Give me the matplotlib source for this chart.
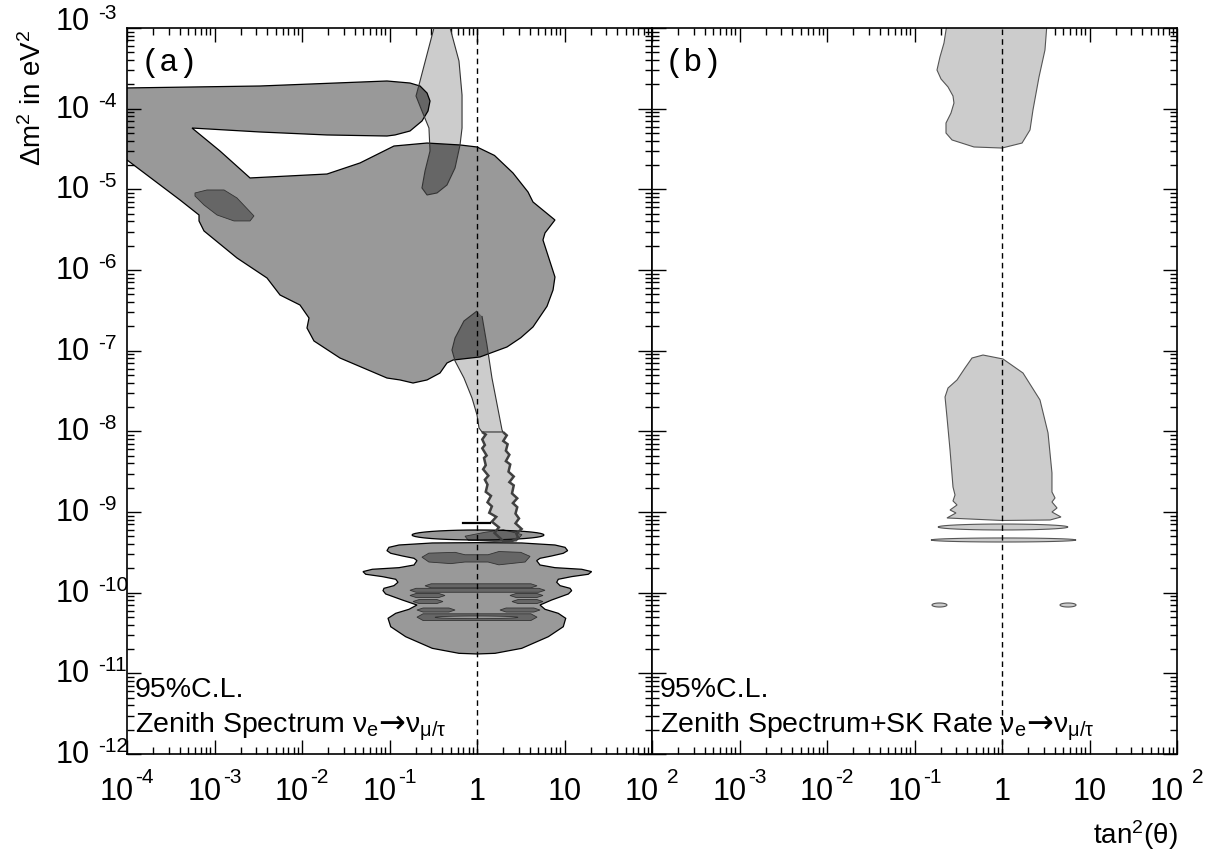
import numpy as np
import matplotlib
matplotlib.use('Agg')
import matplotlib.pyplot as plt
from matplotlib.patches import Polygon
from matplotlib.ticker import LogLocator, NullFormatter, FixedLocator

plt.rcParams['font.family'] = 'Liberation Sans'
plt.rcParams['mathtext.fontset'] = 'custom'
plt.rcParams['mathtext.rm'] = 'Liberation Sans'
plt.rcParams['mathtext.it'] = 'Liberation Sans:italic'
plt.rcParams['mathtext.sf'] = 'Liberation Sans'
plt.rcParams['mathtext.default'] = 'regular'

# axis ticks: value and the exponent printed next to "10" (None -> plain label)
TAN2_TICKS = [1e-4, 1e-3, 1e-2, 1e-1, 1, 10, 100]
TAN2_EXP = ['-4', '-3', '-2', '-1', None, None, '2']
DM2_TICKS = [1e-12, 1e-11, 1e-10, 1e-9, 1e-8, 1e-7, 1e-6, 1e-5, 1e-4, 1e-3]
DM2_EXP = ['-12', '-11', '-10', '-9', '-8', '-7', '-6', '-5', '-4', '-3']
PLAIN_LABELS = {1: '1', 10: '10'}

# contour outlines as (log10 tan^2, log10 dm^2)
# panel (a): zenith spectrum only
A_MAIN = [(-4.05, -3.744), (-2.48, -3.719), (-1.029, -3.657), (-0.766, -3.682), (-0.651, -3.719),
          (-0.571, -3.806), (-0.537, -3.905), (-0.56, -4.029), (-0.629, -4.153), (-0.766, -4.277),
          (-0.937, -4.326), (-1.029, -4.339), (-1.714, -4.326), (-2.48, -4.289), (-3.257, -4.24),
          (-2.937, -4.525), (-2.594, -4.859), (-1.714, -4.810), (-1.337, -4.673), (-0.949, -4.463),
          (-0.571, -4.426), (-0.194, -4.450), (0.0, -4.475), (0.2, -4.58), (0.411, -4.797),
          (0.583, -5.033), (0.64, -5.157), (0.891, -5.380), (0.777, -5.541), (0.754, -5.628),
          (0.891, -6.087), (0.869, -6.248), (0.80, -6.45), (0.64, -6.706), (0.5, -6.84),
          (0.343, -6.954), (0.034, -7.078), (-0.274, -7.116), (-0.343, -7.153), (-0.423, -7.277),
          (-0.571, -7.363), (-0.731, -7.401), (-0.88, -7.363), (-1.029, -7.339), (-1.566, -7.091),
          (-1.863, -6.880), (-1.943, -6.719), (-1.92, -6.595), (-2.023, -6.434), (-2.251, -6.310),
          (-2.40, -6.099), (-2.743, -5.851), (-3.12, -5.516), (-3.177, -5.392), (-3.177, -5.318),
          (-3.394, -5.132), (-4.05, -4.595)]
A_LOW = [(0.0, -9.38), (0.511, -9.384), (0.891, -9.409), (1.006, -9.438), (1.036, -9.479),
         (0.986, -9.512), (0.853, -9.545), (0.72, -9.574), (0.682, -9.603), (0.72, -9.657),
         (0.891, -9.690), (1.196, -9.710), (1.31, -9.739), (1.272, -9.772), (1.082, -9.801),
         (0.929, -9.834), (0.911, -9.871), (0.949, -9.913), (1.063, -9.946), (1.082, -9.975),
         (1.044, -10.016), (0.853, -10.091), (0.72, -10.153), (0.777, -10.206), (0.929, -10.256),
         (1.014, -10.318), (0.986, -10.422), (0.815, -10.546), (0.511, -10.690), (0.206, -10.752),
         (0.0, -10.760), (-0.206, -10.752), (-0.511, -10.690), (-0.815, -10.546), (-0.986, -10.422),
         (-1.017, -10.318), (-0.929, -10.256), (-0.777, -10.206), (-0.686, -10.153),
         (-0.853, -10.091), (-1.044, -10.016), (-1.074, -9.975), (-1.063, -9.946), (-0.949, -9.913),
         (-0.903, -9.871), (-0.929, -9.834), (-1.082, -9.801), (-1.272, -9.772), (-1.303, -9.739),
         (-1.196, -9.710), (-0.891, -9.690), (-0.72, -9.657), (-0.686, -9.603), (-0.72, -9.574),
         (-0.853, -9.545), (-0.986, -9.512), (-1.029, -9.479), (-1.006, -9.438), (-0.891, -9.409),
         (-0.511, -9.384)]
A_STRIPE = (-0.743, 0.766, -9.223, -9.347)
A_LIGHT_UP = [(-0.48, -2.95), (-0.651, -3.657), (-0.697, -3.843), (-0.629, -4.029), (-0.549, -4.24),
              (-0.537, -4.525), (-0.594, -4.773), (-0.629, -4.983), (-0.571, -5.070),
              (-0.457, -5.045), (-0.343, -4.946), (-0.251, -4.735), (-0.194, -4.450),
              (-0.171, -4.24), (-0.171, -3.831), (-0.206, -3.409), (-0.32, -2.95)]
A_LIGHT_LOW = [(0.0, -6.508), (-0.149, -6.632), (-0.251, -6.843), (-0.286, -6.992), (-0.251, -7.128),
               (-0.149, -7.339), (-0.057, -7.587), (0.0, -7.797), (0.023, -7.958), (0.057, -8.008),
               (0.10, -8.04), (0.06, -8.10), (0.09, -8.17), (0.06, -8.21), (0.11, -8.30),
               (0.08, -8.33), (0.10, -8.42), (0.07, -8.47), (0.13, -8.55), (0.09, -8.60),
               (0.12, -8.66), (0.10, -8.75), (0.16, -8.80), (0.12, -8.88), (0.17, -8.93),
               (0.14, -9.01), (0.22, -9.06), (0.17, -9.12), (0.25, -9.19), (0.20, -9.26),
               (0.26, -9.32), (0.30, -9.36), (0.40, -9.36), (0.47, -9.32), (0.45, -9.27),
               (0.51, -9.21), (0.44, -9.14), (0.48, -9.08), (0.44, -9.02), (0.46, -8.94),
               (0.41, -8.89), (0.46, -8.83), (0.40, -8.77), (0.42, -8.67), (0.37, -8.63),
               (0.42, -8.56), (0.36, -8.50), (0.38, -8.41), (0.33, -8.37), (0.37, -8.29),
               (0.33, -8.24), (0.35, -8.16), (0.30, -8.12), (0.34, -8.05), (0.297, -8.008),
               (0.286, -7.983), (0.171, -7.339), (0.114, -6.930), (0.057, -6.570)]
A_DARK_BLOB = [(-3.223, -5.045), (-3.086, -5.008), (-2.891, -5.008), (-2.743, -5.107), (-2.549, -5.330),
               (-2.594, -5.392), (-2.777, -5.392), (-2.971, -5.318), (-3.12, -5.194), (-3.223, -5.083)]
A_BOWTIE = [(-0.629, -9.56), (-0.55, -9.51), (-0.25, -9.50), (-0.137, -9.53), (0.126, -9.53),
            (0.25, -9.49), (0.50, -9.50), (0.606, -9.55), (0.55, -9.62), (0.25, -9.655),
            (0.126, -9.62), (-0.137, -9.62), (-0.30, -9.64), (-0.55, -9.62)]
A_MERGE = [(-0.137, -9.30), (0.1, -9.25), (0.3, -9.22), (0.514, -9.28), (0.45, -9.36),
           (0.2, -9.365), (-0.1, -9.35)]
# dark bands inside the low region: (x left, x right, y top, y bottom)
A_BANDS = [(-0.594, 0.686, -9.890, -9.940), (-0.766, 0.777, -9.946, -9.995),
           (-0.766, -0.366, -10.010, -10.060), (0.377, 0.754, -10.010, -10.060),
           (-0.731, -0.389, -10.085, -10.135), (0.40, 0.754, -10.085, -10.135),
           (-0.686, -0.251, -10.190, -10.240), (0.263, 0.72, -10.190, -10.240),
           (-0.686, 0.686, -10.262, -10.345)]
A_RING_HOLE = (-0.48, 0.469, -10.289, -10.322)
A_TICK_MARK = ([-0.16, 0.149], [-9.136, -9.136])

# panel (b): zenith spectrum + SK rate
B_LIGHT_UP = [(-0.629, -2.95), (-0.663, -3.186), (-0.709, -3.359), (-0.743, -3.521), (-0.697, -3.632),
              (-0.617, -3.731), (-0.56, -3.843), (-0.549, -3.930), (-0.583, -4.054), (-0.64, -4.178),
              (-0.64, -4.302), (-0.571, -4.388), (-0.32, -4.475), (0.0, -4.488), (0.229, -4.426),
              (0.32, -4.264), (0.354, -4.016), (0.423, -3.607), (0.491, -3.273), (0.514, -2.95)]
B_LIGHT_LOW = [(-0.217, -7.054), (0.011, -7.103), (0.24, -7.277), (0.434, -7.611), (0.526, -8.020),
               (0.571, -8.516), (0.571, -8.752), (0.606, -8.826), (0.571, -8.876), (0.629, -8.950),
               (0.571, -9.0), (0.674, -9.062), (0.549, -9.099), (0.0, -9.105), (-0.629, -9.074),
               (-0.526, -9.012), (-0.594, -8.975), (-0.514, -8.913), (-0.56, -8.863),
               (-0.537, -8.789), (-0.56, -8.690), (-0.594, -8.231), (-0.629, -7.822),
               (-0.651, -7.574), (-0.617, -7.463), (-0.514, -7.363), (-0.423, -7.215),
               (-0.343, -7.091)]
B_LENSES = [(-0.731, 0.754, -9.149, -9.223), (-0.811, 0.846, -9.322, -9.372),
            (-0.8, -0.629, -10.128, -10.178), (0.663, 0.846, -10.128, -10.178)]

MID = '#999999'
LIGHT = '#cccccc'
DARK = '#666666'


def to_xy(pts):
    a = np.array(pts, dtype=float)
    return np.column_stack([10 ** a[:, 0], 10 ** a[:, 1]])


def lens(x0, x1, yt, yb, n=40):
    t = np.linspace(0, 2 * np.pi, n, endpoint=False)
    cx, cy = (x0 + x1) / 2, (yt + yb) / 2
    return list(zip(cx + (x1 - x0) / 2 * np.cos(t), cy + (yt - yb) / 2 * np.sin(t)))


def band(x0, x1, yt, yb):
    ym = (yt + yb) / 2
    return [(x0, ym), (x0 + 0.07, yt), (x1 - 0.07, yt), (x1, ym), (x1 - 0.07, yb), (x0 + 0.07, yb)]


def label_width(exp, big=22, small=15):
    # rough advance widths (points) of Liberation Sans digits / minus
    w10 = big * 1.112
    if exp is None:
        return w10, 0, 0
    wexp = small * (0.333 * exp.count('-') + 0.556 * sum(c.isdigit() for c in exp))
    gap = 1.0 if exp.startswith('-') else 6.0
    return w10, gap, wexp


def x_labels(ax, skip_first):
    for i, (v, e) in enumerate(zip(TAN2_TICKS, TAN2_EXP)):
        if skip_first and i == 0:
            continue
        if e is None:
            ax.annotate(PLAIN_LABELS[v], xy=(v, 0), xycoords=('data', 'axes fraction'),
                        xytext=(0, -33), textcoords='offset points', ha='center',
                        va='baseline', fontsize=22, annotation_clip=False)
            continue
        w10, gap, wexp = label_width(e)
        left = -(w10 + gap + wexp) / 2
        ax.annotate('10', xy=(v, 0), xycoords=('data', 'axes fraction'),
                    xytext=(left, -33), textcoords='offset points', ha='left',
                    va='baseline', fontsize=22, annotation_clip=False)
        ax.annotate(e, xy=(v, 0), xycoords=('data', 'axes fraction'),
                    xytext=(left + w10 + gap, -21), textcoords='offset points', ha='left',
                    va='baseline', fontsize=15, annotation_clip=False)


def y_labels(ax):
    for v, e in zip(DM2_TICKS, DM2_EXP):
        lift = 5 if v == DM2_TICKS[-1] else 0
        ax.annotate('10', xy=(0, v), xycoords=('axes fraction', 'data'),
                    xytext=(-26.5, -6.5 + lift), textcoords='offset points', ha='right',
                    va='baseline', fontsize=22, annotation_clip=False)
        ax.annotate(e, xy=(0, v), xycoords=('axes fraction', 'data'),
                    xytext=(-21, 1.5 + lift), textcoords='offset points', ha='left',
                    va='baseline', fontsize=15, annotation_clip=False)


def text_run(ax, x, y, pieces, renderer):
    # consecutive text pieces on one baseline; pieces = [(string, kwargs), ...]
    for s, kw in pieces:
        t = ax.text(x, y, s, transform=ax.transAxes, ha='left', va='baseline', zorder=7,
                    fontsize=kw.pop('fontsize', 20.5), **kw)
        bb = t.get_window_extent(renderer)
        x = ax.transAxes.inverted().transform((bb.x1, bb.y0))[0]


def setup(ax):
    ax.set_xscale('log')
    ax.set_yscale('log')
    ax.set_xlim(1e-4, 1e2)
    ax.set_ylim(1e-12, 1e-3)
    ax.xaxis.set_major_locator(FixedLocator(TAN2_TICKS))
    ax.yaxis.set_major_locator(FixedLocator(DM2_TICKS))
    ax.xaxis.set_minor_locator(LogLocator(base=10, subs=np.arange(2, 10), numticks=100))
    ax.yaxis.set_minor_locator(LogLocator(base=10, subs=np.arange(2, 10), numticks=100))
    ax.xaxis.set_minor_formatter(NullFormatter())
    ax.yaxis.set_minor_formatter(NullFormatter())
    ax.set_xticklabels([])
    ax.set_yticklabels([])
    ax.tick_params(which='both', direction='in', top=True, right=True, width=1.0)
    ax.tick_params(which='major', length=10)
    ax.tick_params(which='minor', length=5)
    for s in ax.spines.values():
        s.set_linewidth(1.2)
    ax.axvline(1, color='black', lw=1.0, ls=(0, (4, 3)), zorder=6)


fig = plt.figure(figsize=(12.22, 8.5), dpi=100)
ax1 = fig.add_axes([127 / 1222, 96 / 850, 525 / 1222, 726 / 850])
ax2 = fig.add_axes([652 / 1222, 96 / 850, 525 / 1222, 726 / 850])

# ---- panel (a)
mid_shapes = [A_MAIN, A_LOW, lens(*A_STRIPE)]
light_shapes = [A_LIGHT_UP, A_LIGHT_LOW]
mid_patches = []
for pts in mid_shapes:
    p = Polygon(to_xy(pts), closed=True, fc=MID, ec='none', zorder=1)
    ax1.add_patch(p)
    mid_patches.append(p)
for pts in light_shapes:
    ax1.add_patch(Polygon(to_xy(pts), closed=True, fc=LIGHT, ec='none', zorder=2))
# overlap of the two contour sets
for mp in mid_patches:
    for pts in light_shapes:
        ov = Polygon(to_xy(pts), closed=True, fc=DARK, ec='none', zorder=3)
        ax1.add_patch(ov)
        ov.set_clip_path(mp)
for pts in [A_DARK_BLOB, A_BOWTIE, A_MERGE] + [band(*b) for b in A_BANDS]:
    ax1.add_patch(Polygon(to_xy(pts), closed=True, fc=DARK, ec='#333333', lw=0.6, zorder=3))
ax1.add_patch(Polygon(to_xy(lens(*A_RING_HOLE)), closed=True, fc=MID, ec='#333333', lw=0.6, zorder=3))
for pts in mid_shapes:
    ax1.add_patch(Polygon(to_xy(pts), closed=True, fc='none', ec='black', lw=0.9, zorder=4))
ax1.add_patch(Polygon(to_xy(A_LIGHT_UP), closed=True, fc='none', ec='#333333', lw=0.8, zorder=4))
ax1.add_patch(Polygon(to_xy(A_LIGHT_LOW[:10] + A_LIGHT_LOW[-5:]), closed=False, fc='none',
                      ec='#333333', lw=0.8, zorder=4))
ax1.add_patch(Polygon(to_xy(A_LIGHT_LOW[9:-4]), closed=False, fc='none', ec='#404040', lw=1.8, zorder=4))
ax1.plot(10 ** np.array(A_TICK_MARK[0]), 10 ** np.array(A_TICK_MARK[1]), color='black', lw=1.6, zorder=5)
setup(ax1)
x_labels(ax1, skip_first=False)
y_labels(ax1)

# ---- panel (b)
for pts in [B_LIGHT_UP, B_LIGHT_LOW] + [lens(*l) for l in B_LENSES]:
    ax2.add_patch(Polygon(to_xy(pts), closed=True, fc=LIGHT, ec='#555555', lw=0.8, zorder=2))
setup(ax2)
x_labels(ax2, skip_first=True)

# ---- text
renderer = fig.canvas.get_renderer()
for ax, tag, head in [(ax1, '(a)', 'Zenith Spectrum ν$_{e}$'),
                      (ax2, '(b)', 'Zenith Spectrum+SK Rate ν$_{e}$')]:
    ax.text(0.025, 0.972, tag, transform=ax.transAxes, family='Liberation Mono', fontsize=23,
            ha='left', va='top', zorder=7)
    ax.text(0.015, 0.078, '95%C.L.', transform=ax.transAxes, fontsize=20.5, ha='left',
            va='baseline', zorder=7)
    text_run(ax, 0.015, 0.030, [(head, {}),
                                ('→', {'family': 'DejaVu Sans', 'fontsize': 23}),
                                ('ν$_{μ/τ}$', {})], renderer)

fig.text(33 / 1222, 1 - 98 / 850, '$\\Delta$m$^{2}$ in eV$^{2}$', rotation=90, fontsize=20,
         ha='center', va='center')
fig.text(1178 / 1222, 1 - 835 / 850, 'tan$^{2}$(θ)', fontsize=20, ha='right', va='center')

fig.savefig('out.png', dpi=100, facecolor='white')
